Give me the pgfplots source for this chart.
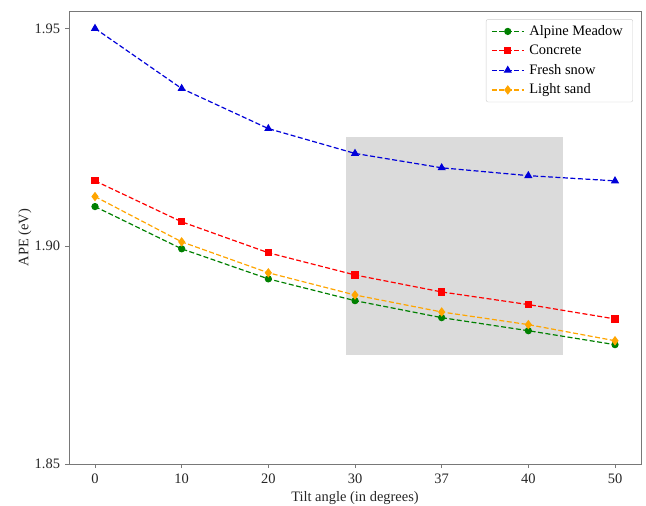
\documentclass[border=0pt]{standalone}
\usepackage{fontspec}
\setmainfont{Liberation Serif}
\usepackage{pgfplots}
\pgfplotsset{compat=1.18}
\definecolor{mgreen}{RGB}{0,128,0}
\definecolor{morange}{RGB}{255,165,0}
\definecolor{frame}{RGB}{120,120,120}
\begin{document}
\fontsize{14.5}{17}\selectfont
\begin{tikzpicture}
\begin{axis}[
  scale only axis,
  width=572bp, height=453bp,
  xmin=-0.3, xmax=6.3,
  ymin=1.85, ymax=1.954,
  xtick={0,1,2,3,4,5,6},
  xticklabels={0,10,20,30,37,40,50},
  ytick={1.85,1.90,1.95},
  yticklabels={1.85,1.90,1.95},
  tick align=outside,
  tick pos=left,
  major tick length=4bp,
  axis line style={frame, line width=0.9pt},
  every tick/.style={frame, line width=0.9pt},
  /pgf/number format/assume math mode=true,
  tick label style={font=\fontsize{14.5}{17}\selectfont, text=black!85},
  xticklabel style={yshift=-1bp},
  label style={font=\fontsize{14.5}{17}\selectfont, text=black!85},
  xlabel={Tilt angle (in degrees)},
  ylabel={APE (eV)},
  xlabel style={at={(axis description cs:0.5,-0.075)}, anchor=center},
  ylabel style={at={(axis description cs:-0.077,0.5)}, anchor=center},
  legend style={draw=black!20, rounded corners=2pt, font=\fontsize{14.5}{17}\selectfont, row sep=3.5pt, inner xsep=5pt, inner ysep=4pt, at={(0.986,0.982)}, anchor=north east, nodes={inner xsep=5pt}},
  legend image code/.code={\draw[mark repeat=2,mark phase=2] plot coordinates {(0bp,0bp) (16bp,0bp) (32bp,0bp)};},
  legend cell align=left,
  every axis plot/.append style={line width=1.2pt, dash pattern=on 5pt off 2.5pt},
]
\addplot[draw=none, fill=black!14, forget plot, solid] coordinates {(2.9,1.875) (5.4,1.875) (5.4,1.925) (2.9,1.925)} -- cycle;
\addplot[mgreen, mark=*, mark size=3pt, mark options={solid}] coordinates {
(0,1.9091) (1,1.8994) (2,1.8925) (3,1.8875) (4,1.8836) (5,1.8806) (6,1.8774)};
\addlegendentry{Alpine Meadow}
\addplot[red, mark=square*, mark size=3pt, mark options={solid}] coordinates {
(0,1.9150) (1,1.9056) (2,1.8985) (3,1.8934) (4,1.8895) (5,1.8866) (6,1.8833)};
\addlegendentry{Concrete}
\addplot[blue!85!black, mark=triangle*, mark size=3.6pt, mark options={solid}] coordinates {
(0,1.9500) (1,1.9362) (2,1.9270) (3,1.9213) (4,1.9180) (5,1.9162) (6,1.9150)};
\addlegendentry{Fresh snow}
\addplot[morange, mark=diamond*, mark size=3.8pt, mark options={solid}] coordinates {
(0,1.9114) (1,1.9010) (2,1.8939) (3,1.8888) (4,1.8849) (5,1.8820) (6,1.8783)};
\addlegendentry{Light sand}
\end{axis}
\pgfresetboundingbox
\path[use as bounding box] ([shift={(-69bp,-41bp)}]current axis.south west) rectangle ([shift={(5bp,11bp)}]current axis.north east);
\end{tikzpicture}
\end{document}
